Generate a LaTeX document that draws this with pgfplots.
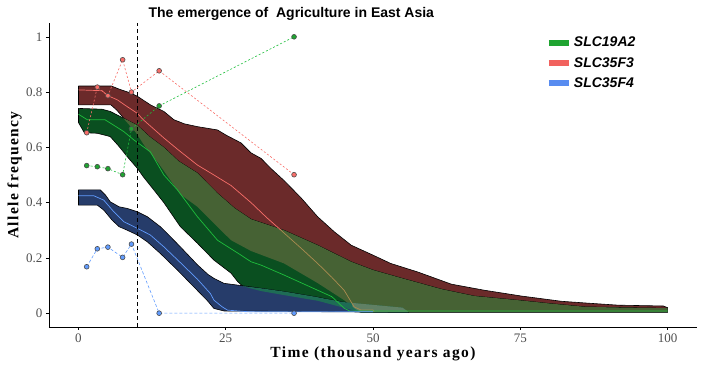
\documentclass[border=0pt]{standalone}
\usepackage{fontspec}
\setmainfont{Liberation Serif}
\newfontfamily\sansfam{Liberation Sans}
\newfontfamily\labfont[LetterSpace=9]{Liberation Serif}
\usepackage{pgfplots}
\pgfplotsset{compat=1.18}
\definecolor{cgreen}{RGB}{31,164,49}
\definecolor{cred}{RGB}{241,98,94}
\definecolor{cblue}{RGB}{88,140,240}
\definecolor{lgreen}{RGB}{30,190,60}
\definecolor{lred}{RGB}{248,110,105}
\definecolor{lblue}{RGB}{97,156,255}
\definecolor{ltan}{RGB}{170,140,80}
\definecolor{bred}{RGB}{107,42,42}
\definecolor{bgreen}{RGB}{10,79,32}
\definecolor{bblue}{RGB}{38,60,106}
\definecolor{bolive}{RGB}{70,98,52}
\definecolor{bteal}{RGB}{30,108,85}
\definecolor{btriple}{RGB}{96,128,100}
\definecolor{tickgray}{RGB}{77,77,77}
\begin{document}
\begin{tikzpicture}
\begin{axis}[name=ax, scale only axis, width=648bp, height=304bp,
  xmin=-5, xmax=105, ymin=-0.05, ymax=1.05,
  axis lines=left, axis line style={-, line width=0.8bp, black},
  xtick={0,25,50,75,100}, ytick={0,0.2,0.4,0.6,0.8,1},
  tick align=outside, major tick length=3bp, tick style={black, line width=0.6bp},
  /pgf/number format/assume math mode=true,
  ticklabel style={font=\fontsize{13bp}{13bp}\selectfont, text=tickgray},
  xlabel={Time (thousand years ago)}, ylabel={Allele frequency},
  xlabel style={font=\labfont\bfseries\fontsize{15.5bp}{16bp}\selectfont, at={([yshift=-30bp]axis description cs:0.5,0)}, anchor=base},
  ylabel style={font=\labfont\bfseries\fontsize{15.5bp}{16bp}\selectfont, at={([xshift=-30.5bp]axis description cs:0,0.5)}, anchor=base},
  legend style={at={(rel axis cs:0.762,0.967)}, anchor=north west, draw=none, fill=none,
    font=\sansfam\bfseries\itshape\fontsize{14bp}{14bp}\selectfont, row sep=5bp},
  legend cell align=left,
  legend image code/.code={\draw[#1] (0bp,0bp) -- (20bp,0bp);},
]
\addlegendimage{cgreen, line width=6bp}
\addlegendentry{SLC19A2}
\addlegendimage{cred, line width=6bp}
\addlegendentry{SLC35F3}
\addlegendimage{cblue, line width=6bp}
\addlegendentry{SLC35F4}
% red band
\addplot[forget plot, fill=bred, draw=black, line width=0.6bp] coordinates {
(0,0.822) (5.6,0.822) (7,0.81) (8.8,0.797) (10,0.785) (12.2,0.754) (14.5,0.73) (16.2,0.70) (18,0.685) (20.2,0.675) (23.6,0.663) (25,0.645) (27.6,0.616) (29.3,0.58) (31,0.56) (32.6,0.525) (34.9,0.48) (37.8,0.417) (40.6,0.349) (43.4,0.295) (46.3,0.246) (50,0.21) (53,0.18) (57.6,0.149) (63.3,0.105) (68.9,0.083) (75.2,0.062) (82,0.043) (86,0.037) (91.6,0.029) (99.3,0.026) (100,0.02)
(100,0.005) (48,0.005) (47,0.015) (45.1,0.047) (40.6,0.109) (34.9,0.18) (29.3,0.225) (25.9,0.264) (23,0.325) (20.2,0.385) (17.3,0.43) (13.6,0.542) (11.4,0.60) (9.7,0.655) (7.5,0.71) (6.5,0.735) (5.5,0.754) (0,0.754) (0,0.822)};
% green band
\addplot[forget plot, fill=bgreen, draw=black, line width=0.6bp] coordinates {
(0,0.741) (4,0.738) (5.4,0.73) (6.6,0.717) (7.7,0.705) (10,0.68) (12,0.64) (14.5,0.60) (17,0.55) (20.2,0.507) (23.6,0.434) (26.5,0.38) (29.3,0.34) (34.9,0.30) (40.6,0.246) (46.3,0.186) (50,0.156) (54.8,0.127) (61.6,0.087) (67.2,0.062) (74.6,0.047) (80,0.035) (86,0.023) (93,0.02) (100,0.018)
(100,0.003) (48,0.003) (45,0.02) (40.6,0.045) (35,0.065) (31,0.08) (28,0.095) (27,0.115) (25.9,0.145) (23,0.192) (20.2,0.253) (17.3,0.313) (14.5,0.40) (12.8,0.446) (11,0.494) (10,0.524) (8.3,0.566) (6.9,0.603) (5.4,0.639) (3.2,0.651) (1,0.653) (0,0.69) (0,0.741)};
% blue band
\addplot[forget plot, fill=bblue, draw=black, line width=0.6bp] coordinates {
(0,0.446) (3.7,0.446) (4.6,0.427) (5.4,0.403) (6.9,0.385) (8.3,0.379) (10,0.367) (11.7,0.349) (13.9,0.313) (15,0.29) (17.3,0.24) (20.2,0.175) (22,0.14) (23,0.126) (24.7,0.108) (27.6,0.10) (31,0.09) (35,0.078) (40,0.06) (45,0.04) (50,0.03) (55,0.02) (56,0.003)
(24.7,0.008) (23,0.017) (21.9,0.045) (19.6,0.095) (16.8,0.156) (13.9,0.216) (11.7,0.258) (10,0.283) (8.3,0.30) (6.9,0.313) (5.7,0.337) (4.3,0.373) (3.2,0.391) (0,0.391) (0,0.446)};
% overlap red & green
\addplot[forget plot, fill=bolive, draw=none] coordinates {
(7.5,0.708) (7.7,0.705) (10,0.68) (12,0.64) (14.5,0.60) (17,0.55) (20.2,0.507) (23.6,0.434) (26.5,0.38) (29.3,0.34) (34.9,0.30) (40.6,0.246) (46.3,0.186) (50,0.156) (54.8,0.127) (61.6,0.087) (67.2,0.062) (74.6,0.047) (80,0.035) (86,0.023) (93,0.02) (100,0.018)
(100,0.005) (48,0.005) (47,0.015) (45.1,0.047) (40.6,0.109) (34.9,0.18) (29.3,0.225) (25.9,0.264) (23,0.325) (20.2,0.385) (17.3,0.43) (13.6,0.542) (11.4,0.60) (9.7,0.655) (7.5,0.708)};
% overlap green & blue
\addplot[forget plot, fill=bteal, draw=none] coordinates {
(27.8,0.098) (31,0.09) (35,0.078) (40,0.06) (45,0.04) (50,0.03) (55,0.02) (56,0.003)
(48,0.003) (45,0.02) (40.6,0.045) (35,0.065) (31,0.08) (27.8,0.098)};
% overlap of all three
\addplot[forget plot, fill=btriple, draw=none] coordinates {
(46.5,0.037) (50,0.03) (55,0.02) (56,0.005) (48,0.005) (47,0.015) (46.5,0.025) (46.5,0.037)};
% centre lines
\addplot[forget plot, lred, line width=0.7bp] coordinates {
(0,0.808) (4,0.805) (5,0.787) (6.6,0.772) (8.3,0.747) (10,0.723) (11,0.70) (14.5,0.634) (17,0.59) (20.2,0.536) (23,0.50) (25.9,0.462) (29.3,0.40) (32,0.345) (34.4,0.30)};
\addplot[forget plot, ltan, line width=0.7bp] coordinates {
(34.4,0.30) (34.9,0.29) (37.8,0.235) (40.6,0.18) (43,0.13) (45.1,0.083) (46.8,0.023) (47.9,0.012) (50,0.012) (50.2,0.005)};
\addplot[forget plot, lgreen, line width=0.7bp] coordinates {
(0,0.72) (1.5,0.70) (4.5,0.70) (6,0.68) (7.7,0.657) (9.4,0.627) (12.2,0.584) (14.5,0.50) (16.8,0.446) (20.2,0.349) (23.6,0.264) (27.6,0.21) (29.3,0.186) (31,0.174) (34.9,0.138) (40.6,0.083) (43,0.06) (45.1,0.018) (46,0.008) (100,0.008)};
\addplot[forget plot, lblue, line width=0.7bp] coordinates {
(0,0.425) (2.6,0.425) (4.3,0.409) (6,0.367) (7.7,0.331) (10,0.307) (12.2,0.283) (14.5,0.24) (17.3,0.183) (20.2,0.123) (22.4,0.071) (23,0.047) (24.4,0.023) (25.3,0.011) (29,0.005) (50,0.005)};
% vertical line
\addplot[forget plot, black, line width=0.8bp, dash pattern=on 4bp off 3bp] coordinates {(10,-0.05) (10,1.05)};
% observed data
\addplot[forget plot, lgreen, line width=0.6bp, dash pattern=on 2bp off 2bp,
  mark=*, mark size=2.4bp, mark options={solid, fill=cgreen, draw=black!70}] coordinates {
(1.4,0.534) (3.2,0.530) (5.0,0.523) (7.5,0.501) (9.0,0.667) (13.7,0.75) (36.6,1.0)};
\addplot[forget plot, lred, line width=0.6bp, dash pattern=on 2bp off 2bp,
  mark=*, mark size=2.4bp, mark options={solid, fill=lred, draw=black!70}] coordinates {
(1.4,0.653) (3.2,0.818) (5.0,0.787) (7.5,0.917) (9.0,0.80) (13.7,0.877) (36.6,0.501)};
\addplot[forget plot, lblue, line width=0.6bp, dash pattern=on 3bp off 2bp,
  mark=*, mark size=2.4bp, mark options={solid, fill=lblue, draw=black!70}] coordinates {
(1.4,0.168) (3.2,0.233) (5.0,0.239) (7.5,0.202) (9.0,0.25) (13.7,0.0) (36.6,0.0)};
\end{axis}
\node[anchor=base west, font=\sansfam\bfseries\fontsize{14bp}{14bp}\selectfont] at ([shift={(96bp,5bp)}]ax.north west) {The emergence of~ Agriculture in East Asia};
\path[use as bounding box] ([shift={(-49bp,-42bp)}]ax.south west) rectangle ([shift={(4bp,23bp)}]ax.north east);
\end{tikzpicture}
\end{document}
